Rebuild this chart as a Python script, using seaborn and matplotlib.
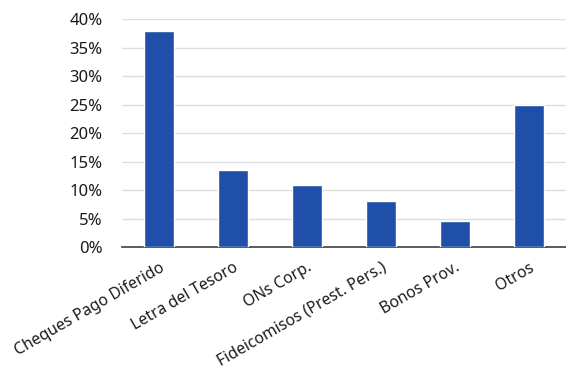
import seaborn as sns
import matplotlib.pyplot as plt
import pandas as pd
from matplotlib.ticker import PercentFormatter

categories = ["Cheques Pago Diferido", "Letra del Tesoro", "ONs Corp.",
              "Fideicomisos (Prest. Pers.)", "Bonos Prov.", "Otros"]
shares = [38.0, 13.6, 10.9, 8.1, 4.6, 25.0]

df = pd.DataFrame({"cat": categories, "share": shares})

sns.set_theme(style="white")
plt.rcParams["font.family"] = ["Noto Sans", "DejaVu Sans"]

fig = plt.figure(figsize=(5.66, 3.71), dpi=100)
ax = fig.add_axes([0.2155, 0.334, 0.7845, 0.614])
sns.barplot(data=df, x="cat", y="share", color="#1f4fa8", saturation=1,
            width=0.4, ax=ax, zorder=3)

ax.set_ylim(0, 40)
ax.set_xlim(-0.5, 5.5)
ax.set_yticks(range(0, 41, 5))
ax.yaxis.set_major_formatter(PercentFormatter(decimals=0))
ax.grid(axis="y", color="#dedede", linewidth=1, zorder=0)
ax.set_axisbelow(True)
ax.set(xlabel="", ylabel="")
for s in ["top", "right", "left"]:
    ax.spines[s].set_visible(False)
ax.spines["bottom"].set_color("#404040")
ax.spines["bottom"].set_linewidth(1.2)
ax.tick_params(axis="y", length=0, pad=14, labelsize=12, colors="#1a1a1a")
ax.tick_params(axis="x", length=0, pad=9, labelsize=11.3, colors="#1a1a1a")
plt.setp(ax.get_xticklabels(), rotation=30, ha="right", rotation_mode="anchor")

fig.savefig("out.png", dpi=100)
